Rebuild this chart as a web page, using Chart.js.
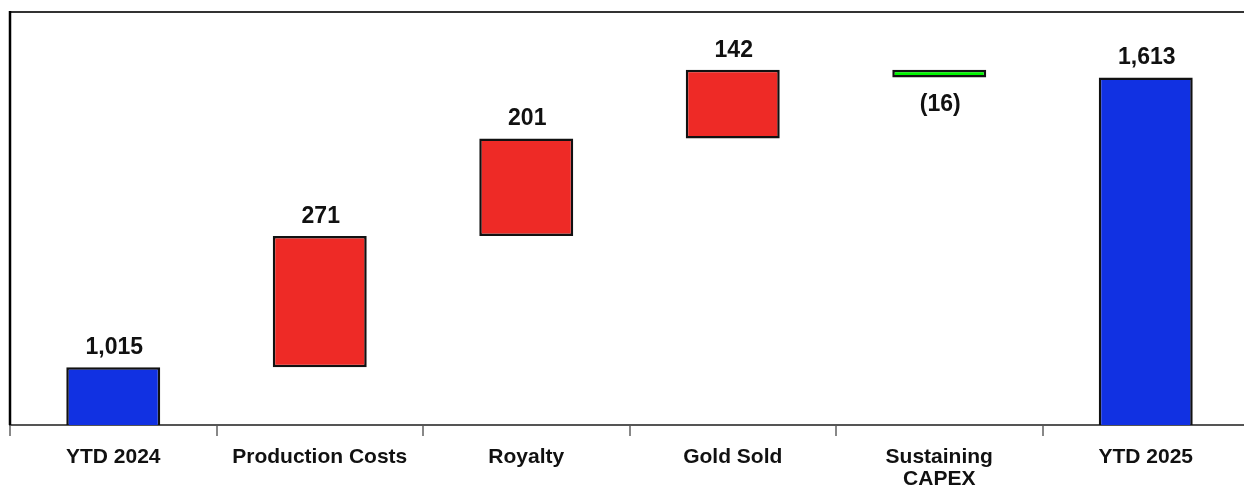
<!DOCTYPE html>
<html>
<head>
<meta charset="utf-8">
<script src="https://cdn.jsdelivr.net/npm/chart.js@4/dist/chart.umd.min.js"></script>
<style>
  html, body { margin: 0; padding: 0; background: #fff; overflow: hidden; }
  #wrap { width: 1260px; height: 500px; }
</style>
</head>
<body>
<div id="wrap"><canvas id="chart"></canvas></div>
<script>
const categories = ["YTD 2024", "Production Costs", "Royalty", "Gold Sold", ["Sustaining", "CAPEX"], "YTD 2025"];
const openingTotal = 1015;
const changes = [271, 201, 142, -16];
const closingTotal = 1613;

const BLUE = "#1131e2";
const RED = "#ee2a26";
const GREEN = "#00f500";

// build floating bars: totals start at zero, changes stack on the running total
const bars = [[0, openingTotal]];
const labels = [openingTotal];
const colors = [BLUE];
let running = openingTotal;
changes.forEach((c) => {
  bars.push([running, running + c]);
  labels.push(c);
  colors.push(c >= 0 ? RED : GREEN);
  running += c;
});
bars.push([0, closingTotal]);
labels.push(closingTotal);
colors.push(BLUE);

const fmt = (v) => (v < 0 ? `(${Math.abs(v).toLocaleString("en-US")})` : v.toLocaleString("en-US"));

const valueLabels = {
  id: "valueLabels",
  afterDatasetsDraw(chart) {
    const { ctx } = chart;
    const meta = chart.getDatasetMeta(0);
    ctx.save();
    ctx.font = "bold 23px 'Liberation Sans', Arial, sans-serif";
    ctx.fillStyle = "#111";
    ctx.textAlign = "center";
    meta.data.forEach((bar, i) => {
      const v = labels[i];
      const top = Math.min(bar.y, bar.base);
      const bottom = Math.max(bar.y, bar.base);
      if (v < 0) {
        ctx.textBaseline = "top";
        ctx.fillText(fmt(v), bar.x + 1, bottom + 16);
      } else {
        ctx.textBaseline = "bottom";
        ctx.fillText(fmt(v), bar.x + 1, top - 8);
      }
    });
    ctx.restore();
  },
};

const frame = {
  id: "frame",
  afterDraw(chart) {
    const { ctx, chartArea: a } = chart;
    ctx.save();
    ctx.lineWidth = 2;
    ctx.strokeStyle = "#333";
    ctx.beginPath();
    ctx.moveTo(a.left, a.top);
    ctx.lineTo(a.right, a.top);
    ctx.stroke();
    ctx.strokeStyle = "#000";
    ctx.lineWidth = 2.5;
    ctx.beginPath();
    ctx.moveTo(a.left, a.top - 1);
    ctx.lineTo(a.left, a.bottom);
    ctx.stroke();
    ctx.restore();
  },
};

new Chart(document.getElementById("chart"), {
  type: "bar",
  data: {
    labels: categories,
    datasets: [
      {
        data: bars,
        backgroundColor: colors,
        borderColor: "#111",
        borderWidth: 2.5,
        borderSkipped: false,
        barPercentage: 0.455,
        categoryPercentage: 1,
        clip: { left: false, right: false, top: false, bottom: 0 },
      },
    ],
  },
  options: {
    responsive: true,
    maintainAspectRatio: false,
    animation: false,
    layout: { padding: { left: 10, top: 12, right: 11, bottom: 0 } },
    plugins: { legend: { display: false }, tooltip: { enabled: false } },
    scales: {
      x: {
        grid: {
          drawOnChartArea: false,
          drawTicks: true,
          tickLength: 11,
          color: "#888",
          lineWidth: 2,
        },
        border: { display: true, color: "#555", width: 2 },
        ticks: {
          color: "#111",
          padding: 10,
          font: { family: "'Liberation Sans', Arial, sans-serif", size: 21, weight: "bold", lineHeight: 1.05 },
          maxRotation: 0,
          autoSkip: false,
        },
      },
      y: {
        display: false,
        min: 896,
        max: 1748,
      },
    },
  },
  plugins: [valueLabels, frame],
});
</script>
</body>
</html>
